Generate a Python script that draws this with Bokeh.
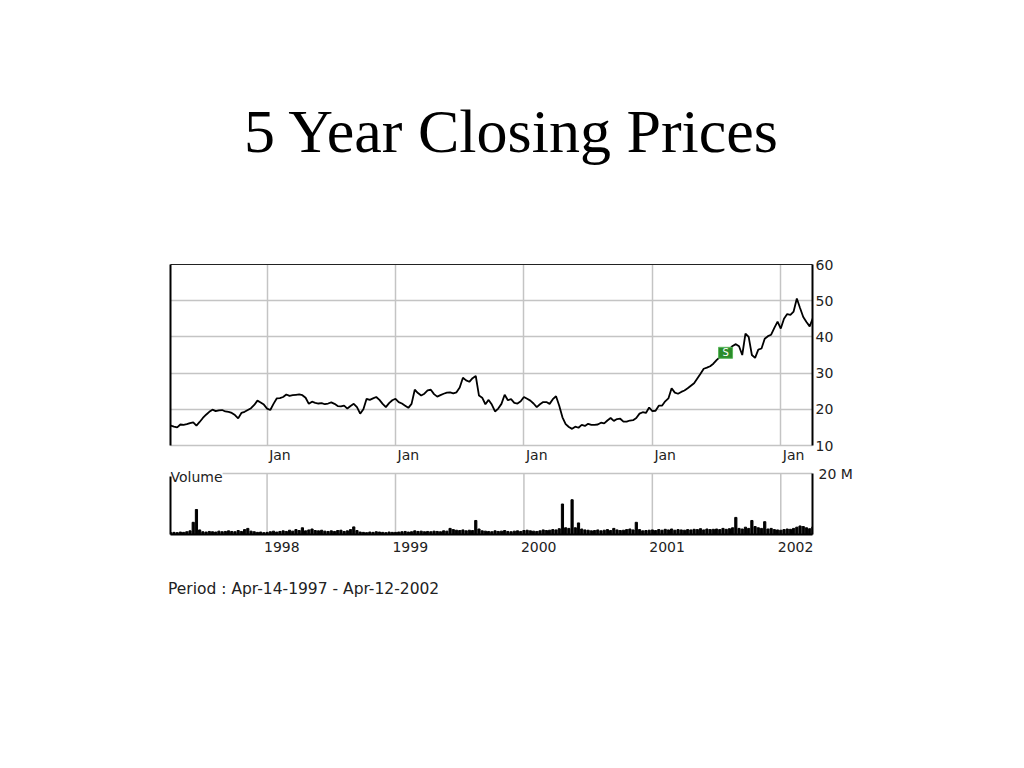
import numpy as np
from bokeh.plotting import figure
from bokeh.models import (FixedTicker, LinearAxis, Range1d, Div, ColumnDataSource)
from bokeh.layouts import column
from bokeh.embed import file_html
from bokeh.resources import INLINE
from bokeh.core.properties import value

# ---------------- data ----------------
start_year = 1997.25
step_year = 0.025   # sampling step of the series (years)

close_prices = [
    15.5, 15.2, 15.0, 15.8, 15.7, 15.9, 16.2, 16.4, 15.5, 16.5,
    17.6, 18.5, 19.3, 19.9, 19.5, 19.7, 19.8, 19.4, 19.3, 19.0,
    18.4, 17.5, 19.0, 19.3, 19.8, 20.3, 21.2, 22.4, 21.9, 21.3,
    20.2, 19.8, 21.5, 23.0, 23.1, 23.4, 24.1, 23.7, 23.9, 24.0,
    24.1, 23.9, 23.2, 21.5, 22.1, 21.8, 21.6, 21.7, 21.4, 21.6,
    21.9, 21.5, 20.9, 20.8, 21.0, 20.2, 20.9, 21.5, 20.6, 18.8,
    20.0, 22.9, 22.6, 23.0, 23.4, 22.6, 21.5, 20.6, 21.7, 22.5,
    22.9, 22.0, 21.6, 21.0, 20.4, 21.5, 25.4, 24.5, 23.8, 24.3,
    25.2, 25.4, 24.2, 23.5, 23.9, 24.3, 24.6, 24.7, 24.4, 24.7,
    26.0, 28.7, 28.0, 27.6, 28.6, 29.2, 23.8, 23.2, 21.4, 22.6,
    21.3, 19.4, 20.2, 21.5, 24.0, 22.5, 22.8, 21.8, 21.6, 22.2,
    23.4, 22.9, 22.4, 21.6, 20.6, 21.4, 22.0, 22.0, 21.5, 22.8,
    23.6, 21.0, 17.8, 15.9, 15.1, 14.6, 15.2, 14.9, 15.7, 15.4,
    16.0, 15.7, 15.7, 15.8, 16.3, 16.1, 16.9, 17.6, 16.8, 17.3,
    17.4, 16.6, 16.6, 16.9, 17.0, 17.6, 18.8, 19.2, 19.0, 20.5,
    19.5, 19.6, 21.0, 21.0, 22.2, 23.0, 25.8, 24.6, 24.3, 24.8,
    25.2, 25.8, 26.5, 27.2, 28.5, 29.8, 31.2, 31.5, 31.9, 32.6,
    33.6, 34.4, 35.4, 36.0, 36.6, 37.5, 38.0, 37.4, 35.0, 40.9,
    40.0, 35.0, 34.2, 36.5, 36.8, 39.5, 40.2, 40.6, 42.5, 44.2,
    42.3, 45.0, 46.3, 46.1, 47.0, 50.6, 48.0, 45.5, 44.1, 42.9,
    45.2,
]

volume_millions = [
    0.6, 0.7, 0.6, 0.8, 0.7, 0.9, 1.2, 4.0, 8.2, 1.5,
    0.9, 0.8, 1.0, 0.9, 0.8, 1.1, 0.9, 1.0, 1.2, 1.0,
    0.9, 1.3, 1.0, 1.6, 2.0, 1.1, 0.9, 0.7, 0.8, 0.6,
    0.7, 0.9, 1.1, 0.8, 1.0, 1.2, 1.0, 1.4, 1.1, 1.6,
    1.3, 2.2, 1.2, 1.5, 1.8, 1.3, 1.2, 1.4, 1.1, 1.0,
    1.2, 1.0, 1.3, 1.4, 1.0, 1.2, 1.6, 2.5, 1.3, 0.8,
    0.7, 0.6, 0.8, 0.7, 0.9, 0.8, 0.7, 0.6, 0.8, 0.7,
    0.7, 0.8, 0.9, 1.0, 0.8, 0.9, 1.2, 1.0, 1.1, 0.9,
    1.0, 0.9, 1.1, 1.0, 0.9, 1.2, 1.1, 2.0, 1.6, 1.4,
    1.3, 1.5, 1.2, 1.4, 1.3, 4.6, 1.8, 1.2, 1.1, 1.0,
    0.9, 1.2, 1.0, 1.1, 1.3, 1.0, 0.9, 1.1, 1.2, 1.0,
    1.3, 1.4, 1.2, 1.1, 1.0, 1.2, 1.5, 1.3, 1.4, 1.6,
    1.5, 1.9, 10.0, 2.2, 2.0, 11.4, 2.2, 3.8, 1.8, 1.5,
    1.4, 1.2, 1.3, 1.5, 1.2, 1.4, 1.6, 1.3, 2.0, 1.5,
    1.3, 1.4, 1.6, 1.8, 1.5, 4.0, 1.6, 1.2, 1.3, 1.4,
    1.5, 1.3, 1.6, 1.4, 1.7, 1.5, 1.8, 1.4, 1.6, 1.5,
    1.4, 1.6, 1.5, 1.7, 1.6, 1.9, 1.5, 1.8, 1.6, 1.7,
    1.8, 1.6, 2.0, 1.7, 1.9, 2.2, 5.6, 2.0, 1.8, 2.4,
    2.0, 4.6, 2.6, 2.2, 2.0, 4.2, 1.8, 2.0, 1.6, 1.5,
    1.4, 1.6, 1.8, 1.7, 2.0, 2.4, 2.8, 2.6, 2.2, 1.9,
    2.5,
]

year_starts = [1998, 1999, 2000, 2001, 2002]
month_labels = ["Jan", "Jan", "Jan", "Jan", "Jan"]
year_labels = ["1998", "1999", "2000", "2001", "2002"]
price_ticks = [10, 20, 30, 40, 50, 60]
volume_ticks = [20]
volume_tick_labels = ["20 M"]
volume_max = 20

split_date = [2001.57]
split_price = [35.6]
split_text = ["S"]

title_text = "5 Year Closing Prices"
period_text = "Period : Apr-14-1997 - Apr-12-2002"
volume_title = "Volume"

# ---------------- derived ----------------
dates = start_year + step_year * np.arange(len(close_prices))
src = ColumnDataSource(dict(x=dates, price=close_prices, vol=volume_millions))

FONT = "DejaVu Sans"
TXT = "#222222"
GRID = "#c4c4c4"
x_start, x_end = 1997.248, 2002.247
x_range = Range1d(x_start, x_end)

month_pos = [y + 0.1 for y in year_starts]
year_pos = [y + 0.115 for y in year_starts]

VOL_FRAME_H = 69      # frame height of the volume panel (px)
VOL_BAR_H = 61        # px taken by 0..20 M
vol_range_end = volume_max * VOL_FRAME_H / VOL_BAR_H


def style_axis(ax, line_color, line_width, standoff):
    ax.axis_line_color = line_color
    ax.axis_line_width = line_width
    ax.major_tick_line_color = None
    ax.minor_tick_line_color = None
    ax.major_tick_out = 0
    ax.major_tick_in = 0
    ax.minor_tick_out = 0
    ax.minor_tick_in = 0
    ax.major_label_standoff = standoff
    ax.major_label_text_font = FONT
    ax.major_label_text_font_size = "14px"
    ax.major_label_text_color = TXT


def border_axis(color, width, bounds="auto"):
    return LinearAxis(ticker=FixedTicker(ticks=[]), axis_line_color=color,
                      axis_line_width=width, major_tick_line_color=None,
                      minor_tick_line_color=None, major_tick_out=0,
                      major_tick_in=0, minor_tick_out=0, minor_tick_in=0,
                      major_label_text_font_size="0px",
                      major_label_standoff=0, bounds=bounds)


# ---------------- price chart ----------------
p = figure(x_range=x_range, y_range=Range1d(10, 60), frame_width=642,
           frame_height=181, output_backend="svg", toolbar_location=None,
           y_axis_location="right", min_border_left=170, min_border_right=70,
           min_border_top=20, min_border_bottom=10)
p.outline_line_color = None

p.xaxis.ticker = FixedTicker(ticks=month_pos)
p.xaxis.major_label_overrides = {pos: lab for pos, lab in zip(month_pos, month_labels)}
style_axis(p.xaxis[0], GRID, 1.5, 1)

p.yaxis.ticker = FixedTicker(ticks=price_ticks)
style_axis(p.yaxis[0], "black", 2, 3)

p.xgrid.ticker = FixedTicker(ticks=year_starts)
p.ygrid.ticker = FixedTicker(ticks=price_ticks)
for g in (p.xgrid, p.ygrid):
    g.grid_line_color = GRID
    g.grid_line_width = 1.5

p.add_layout(border_axis("black", 2), "left")
p.add_layout(border_axis("#222222", 1), "above")

p.line("x", "price", source=src, color="black", line_width=1.8)

p.rect(x=split_date, y=split_price, width=14, height=11, width_units="screen",
       height_units="screen", fill_color="#2a8c2a", line_color="#5cb85c")
p.text(x=split_date, y=split_price, text=split_text, text_color="white",
       text_font=value(FONT), text_font_size="10px", text_align="center",
       text_baseline="middle")

# ---------------- volume chart ----------------
v = figure(x_range=x_range, y_range=Range1d(0, vol_range_end), frame_width=642,
           frame_height=VOL_FRAME_H, output_backend="svg", toolbar_location=None,
           y_axis_location="right", min_border_left=170, min_border_right=70,
           min_border_top=0, min_border_bottom=30)
v.outline_line_color = None

v.xaxis.ticker = FixedTicker(ticks=year_pos)
v.xaxis.major_label_overrides = {pos: lab for pos, lab in zip(year_pos, year_labels)}
style_axis(v.xaxis[0], "black", 2, 7)

v.yaxis.ticker = FixedTicker(ticks=volume_ticks)
v.yaxis.major_label_overrides = {t: lab for t, lab in zip(volume_ticks, volume_tick_labels)}
v.yaxis.bounds = (0, volume_max)
style_axis(v.yaxis[0], "black", 2, 6)

v.xgrid.visible = False
v.ygrid.ticker = FixedTicker(ticks=[volume_max])
v.ygrid.grid_line_color = GRID
v.ygrid.grid_line_width = 1.5

v.add_layout(border_axis("black", 2, bounds=(0, volume_max - 1)), "left")

v.segment(x0=year_starts, y0=[0] * len(year_starts), x1=year_starts,
          y1=[volume_max] * len(year_starts), line_color=GRID, line_width=1.5,
          level="underlay")

v.vbar(x="x", top="vol", bottom=0, width=0.017, source=src, color="black")

v.text(x=[x_start], y=[volume_max], text=[volume_title], text_font=value(FONT),
       text_font_size="14px", text_color=TXT, text_baseline="alphabetic",
       text_align="left", y_offset=3, background_fill_color="white")

# ---------------- texts ----------------
title_div = Div(
    text=f'<div style="font-family:\'Liberation Serif\',\'Times New Roman\',serif;'
         f'font-size:62px;line-height:62px;padding-top:100px;text-align:center;'
         f'width:1022px;color:black;">{title_text}</div>',
    width=1022, height=244, margin=0)

period_div = Div(
    text=f'<div style="font-family:\'DejaVu Sans\',sans-serif;font-size:15.5px;'
         f'line-height:18px;padding-top:16px;padding-left:168px;color:#222;'
         f'white-space:nowrap;">{period_text}</div>',
    width=1008, height=50, margin=0)

layout = column(title_div, p, v, period_div, spacing=0)

open("out.html", "w").write(file_html(layout, INLINE, title="5 Year Closing Prices"))
